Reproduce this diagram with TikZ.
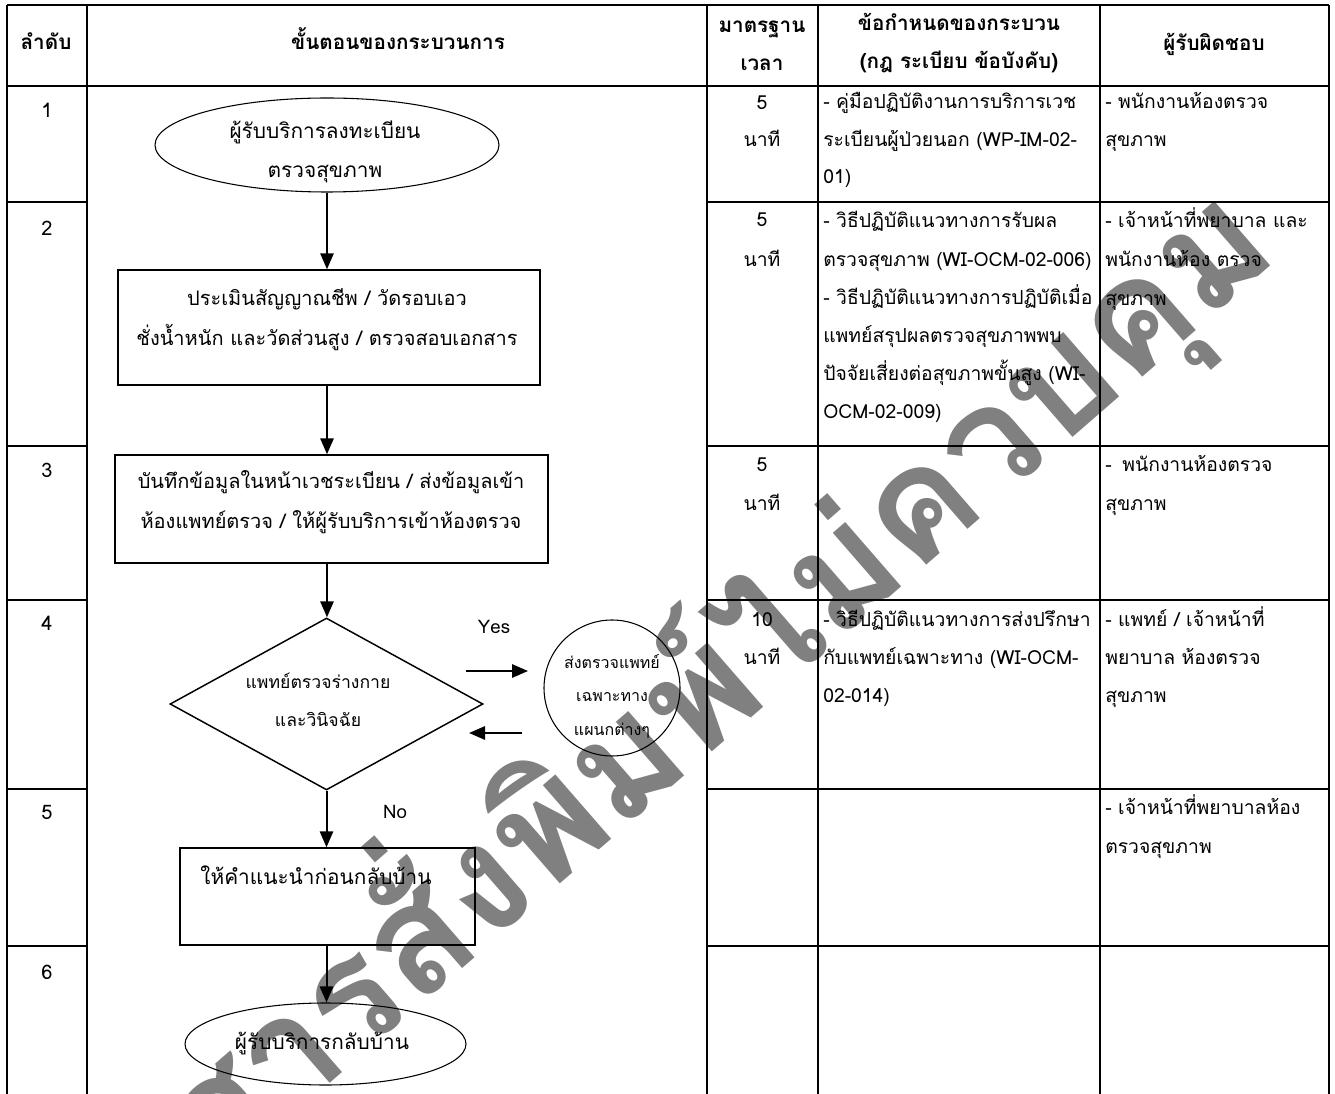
\documentclass[tikz,border=0pt]{standalone}
\usepackage{fontspec}
\setmainfont[Script=Thai]{Loma}
\usetikzlibrary{shapes.geometric,arrows.meta}
\newcommand\tlines[7]{% name, style, x, first baseline y, dy, anchor, lines
  \foreach \t [count=\i] in {#7}{\node[#2, anchor=#6] (#1-\i) at ({#3},{#4+(\i-1)*#5}) {\t};}}
\begin{document}
\begin{tikzpicture}[x=0.75pt,y=-0.75pt,
  tline/.style={line width=1.8pt},
  arr/.style={line width=1.5pt,-{Triangle[length=12pt,width=10pt]}},
  shp/.style={draw,line width=1.1pt,inner sep=0pt},
  thin/.style={draw,line width=0.8pt,inner sep=0pt},
  txt/.style={inner sep=0pt,font=\fontsize{15}{17}\selectfont},
  tab/.style={inner sep=0pt,font=\fontsize{14.5}{17}\selectfont},
  big/.style={inner sep=0pt,font=\fontsize{15.6}{18}\selectfont},
  mid/.style={inner sep=0pt,font=\fontsize{13.2}{15}\selectfont},
  lat/.style={inner sep=0pt,font=\fontsize{14}{16}\selectfont},
  hdr/.style={inner sep=0pt,font=\fontsize{15.5}{18}\selectfont\bfseries},
  sml/.style={inner sep=0pt,font=\fontsize{12}{14}\selectfont},
  wm/.style={inner sep=0pt,text=gray,font=\fontsize{115}{115}\selectfont\bfseries}]
\useasboundingbox (0,0) rectangle (1335,1094);
\fill[white] (0,0) rectangle (1335,1094);
\begin{scope}
\clip (0,0) rectangle (1335,1094);
\node[wm,rotate=41] (wmark) at (622,752) {เอกสารสั่งพิมพ์ไม่ควบคุม};
\end{scope}
% table grid
\draw[tline] (7,5) -- (1329,5);
\draw[tline] (7,86) -- (1329,86);
\foreach \x in {7,87,707,818,1100,1329} \draw[tline] (\x,5) -- (\x,1094);
\foreach \y in {202,446,600,789,946} {\draw[tline] (7,\y) -- (87,\y); \draw[tline] (707,\y) -- (1329,\y);}
% header
\node[hdr,anchor=base] (h1) at (46,50) {ลำดับ};
\node[hdr,anchor=base] (h2) at (398,50) {ขั้นตอนของกระบวนการ};
\tlines{h3}{hdr}{762}{33}{38}{base}{มาตรฐาน,เวลา}
\tlines{h4}{hdr}{959}{31}{38}{base}{ข้อกำหนดของกระบวน,(กฎ ระเบียบ ข้อบังคับ)}
\node[hdr,anchor=base] (h5) at (1214,51) {ผู้รับผิดชอบ};
% row numbers
\node[txt] (n1) at (47,110) {1};
\node[txt] (n2) at (47,228) {2};
\node[txt] (n3) at (47,470) {3};
\node[txt] (n4) at (47,623) {4};
\node[txt] (n5) at (47,812) {5};
\node[txt] (n6) at (47,972) {6};
% column 3
\tlines{t1}{tab}{762}{110}{37}{base}{5,นาที}
\tlines{t2}{tab}{762}{227}{40}{base}{5,นาที}
\tlines{t3}{tab}{762}{472}{39}{base}{5,นาที}
\tlines{t4}{tab}{762}{626}{38}{base}{10,นาที}
% column 4
\tlines{r1}{tab}{823}{109}{37.5}{base west}{- คู่มือปฏิบัติงานการบริการเวช,ระเบียนผู้ป่วยนอก (WP-IM-02-,01)}
\tlines{r2}{tab}{823}{228}{38.2}{base west}{- วิธีปฏิบัติแนวทางการรับผล,ตรวจสุขภาพ (WI-OCM-02-006),- วิธีปฏิบัติแนวทางการปฏิบัติเมื่อ,แพทย์สรุปผลตรวจสุขภาพพบ,ปัจจัยเสี่ยงต่อสุขภาพขั้นสูง (WI-,OCM-02-009)}
\tlines{r4}{tab}{823}{626}{38}{base west}{- วิธีปฏิบัติแนวทางการส่งปรึกษา,กับแพทย์เฉพาะทาง (WI-OCM-,02-014)}
% column 5
\tlines{p1}{tab}{1105}{109}{38}{base west}{- พนักงานห้องตรวจ,สุขภาพ}
\tlines{p2}{tab}{1105}{228}{39}{base west}{- เจ้าหน้าที่พยาบาล และ,พนักงานห้อง ตรวจ,สุขภาพ}
\tlines{p3}{tab}{1105}{472}{39}{base west}{-\hspace{8pt}พนักงานห้องตรวจ,สุขภาพ}
\tlines{p4}{tab}{1105}{626}{38}{base west}{- แพทย์ / เจ้าหน้าที่,พยาบาล ห้องตรวจ,สุขภาพ}
\tlines{p5}{tab}{1105}{814}{39}{base west}{- เจ้าหน้าที่พยาบาลห้อง,ตรวจสุขภาพ}
% flowchart shapes
\node[thin,ellipse,minimum width=258pt,minimum height=70.5pt] (e1) at (327,145) {};
\node[shp,rectangle,minimum width=316.5pt,minimum height=86.25pt] (b2) at (329,327.5) {};
\node[shp,rectangle,minimum width=324.75pt,minimum height=81pt] (b3) at (331.5,509) {};
\node[shp,diamond,minimum width=234.75pt,minimum height=129pt] (d4) at (326.5,704) {};
\node[shp,rectangle,minimum width=221.25pt,minimum height=72.75pt] (b5) at (327.5,896.5) {};
\node[thin,ellipse,minimum width=210.75pt,minimum height=61.5pt] (e6) at (325.5,1044) {};
\node[thin,circle,minimum size=102pt] (c4) at (612,688) {};
% flowchart texts
\tlines{e1t}{big}{325}{139}{39}{base}{ผู้รับบริการลงทะเบียน,ตรวจสุขภาพ}
\tlines{b2t}{txt}{327}{306}{40}{base}{ประเมินสัญญาณชีพ / วัดรอบเอว,ชั่งน้ำหนัก และวัดส่วนสูง / ตรวจสอบเอกสาร}
\tlines{b3t}{txt}{331}{489}{40}{base}{บันทึกข้อมูลในหน้าเวชระเบียน / ส่งข้อมูลเข้า,ห้องแพทย์ตรวจ / ให้ผู้รับบริการเข้าห้องตรวจ}
\tlines{d4t}{mid}{318}{688}{38}{base}{แพทย์ตรวจร่างกาย,และวินิจฉัย}
\node[big,anchor=base] (b5t) at (316,884) {ให้คำแนะนำก่อนกลับบ้าน};
\node[big,anchor=base] (e6t) at (322,1049) {ผู้รับบริการกลับบ้าน};
\tlines{c4t}{sml}{612}{668}{33.5}{base}{ส่งตรวจแพทย์,เฉพาะทาง,แผนกต่างๆ}
\node[lat] (yes) at (494,627) {Yes};
\node[lat] (no) at (395,812) {No};
% connectors
\draw[arr] (e1.south) -- (e1.south |- b2.north);
\draw[arr] (b2.south -| e1.south) -- (b3.north -| e1.south);
\draw[arr] (b3.south -| e1.south) -- (d4.north -| e1.south);
\draw[arr] (d4.south) -- (d4.south |- b5.north);
\draw[arr] (b5.south -| d4.south) -- (e6.north -| d4.south);
\coordinate (ya) at (466,671);
\coordinate (yb) at (528,671);
\draw[arr] (ya) -- (yb);
\coordinate (ba) at (522,733);
\coordinate (bb) at (469,733);
\draw[arr] (ba) -- (bb);
\end{tikzpicture}
\end{document}
